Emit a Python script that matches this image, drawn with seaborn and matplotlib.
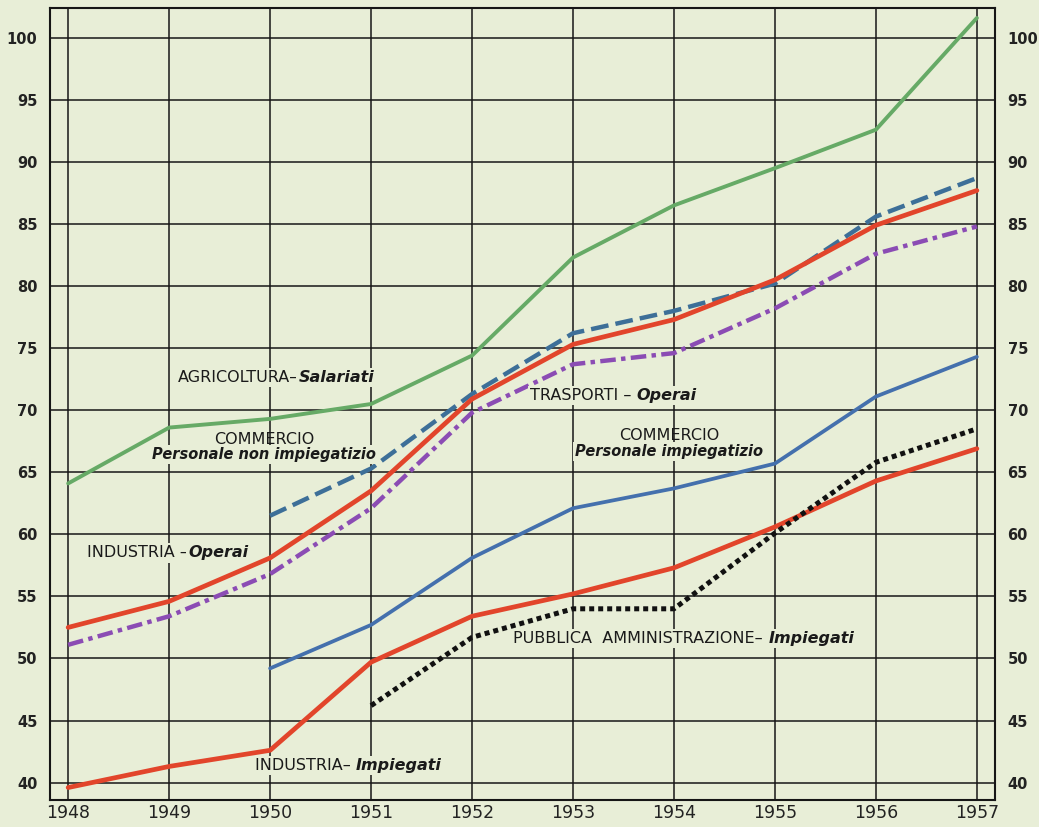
import pandas as pd
import matplotlib.pyplot as plt
import seaborn as sns

# ==========================================
# Data (numeri indici)
# ==========================================

years = [1948, 1949, 1950, 1951, 1952, 1953, 1954, 1955, 1956, 1957]

agricoltura_salariati = [64.1, 68.6, 69.3, 70.5, 74.4, 82.3, 86.5, 89.5, 92.6, 101.6]
commercio_non_impiegatizio = [None, None, 61.5, 65.3, 71.3, 76.2, 78.0, 80.2, 85.6, 88.7]
industria_operai = [52.5, 54.6, 58.1, 63.5, 70.9, 75.3, 77.3, 80.5, 84.9, 87.7]
trasporti_operai = [51.1, 53.4, 56.8, 62.1, 69.8, 73.7, 74.6, 78.2, 82.6, 84.8]
commercio_impiegatizio = [None, None, 49.2, 52.7, 58.1, 62.1, 63.7, 65.7, 71.1, 74.3]
industria_impiegati = [39.6, 41.3, 42.6, 49.7, 53.4, 55.2, 57.3, 60.6, 64.3, 66.9]
pa_impiegati = [None, None, None, 46.2, 51.7, 54.0, 54.0, 60.1, 65.8, 68.5]

y_ticks = [40, 45, 50, 55, 60, 65, 70, 75, 80, 85, 90, 95, 100]

# ==========================================
# Styles
# ==========================================

bg = "#e8eed7"

series = [
    ("agricoltura", agricoltura_salariati, "#66aa66", "-", 2.8),
    ("commercio_non", commercio_non_impiegatizio, "#3d6f98", (0, (4, 1.6)), 3.2),
    ("industria_op", industria_operai, "#e2452b", "-", 3.4),
    ("trasporti", trasporti_operai, "#8b4cb4", (0, (3.5, 1.2, 1, 1.2)), 3.2),
    ("commercio_imp", commercio_impiegatizio, "#4470ad", "-", 2.7),
    ("industria_imp", industria_impiegati, "#e2452b", "-", 3.4),
    ("pa", pa_impiegati, "#111111", (0, (1, 0.8)), 3.6),
]

sns.set_theme(style="white")
plt.rcParams["font.family"] = ["DejaVu Sans"]

fig = plt.figure(figsize=(10.39, 8.27), dpi=100, facecolor=bg)
ax = fig.add_axes([0.0481, 0.0327, 0.9096, 0.9576])
ax.set_facecolor(bg)

# ==========================================
# Lines
# ==========================================

for name, values, color, ls, lw in series:
    df = pd.DataFrame({"anno": years, "indice": values}).dropna()
    sns.lineplot(
        data=df,
        x="anno",
        y="indice",
        ax=ax,
        color=color,
        linestyle=ls,
        linewidth=lw,
        zorder=3,
    )

# ==========================================
# Axes / grid
# ==========================================

ax.set_xlim(1947.82, 1957.18)
ax.set_ylim(38.6, 102.4)
ax.set_xticks(years)
ax.set_xticklabels([str(y) for y in years], fontsize=12.5)
ax.set_yticks(y_ticks)
ax.set_yticklabels([str(v) for v in y_ticks], fontsize=10.5, fontweight="bold")
ax.tick_params(axis="both", length=0, colors="#222222")
ax.tick_params(axis="y", pad=9, labelright=True)
ax.tick_params(axis="x", pad=3)
ax.set_xlabel("")
ax.set_ylabel("")
ax.grid(True, color="#161616", linewidth=1.1)
ax.set_axisbelow(True)
for s in ax.spines.values():
    s.set_color("#161616")
    s.set_linewidth(1.5)

# ==========================================
# Labels
# ==========================================

box = dict(facecolor=bg, edgecolor="none", pad=1.5)


def label(x, y, plain, ital, size=11.5):
    t = ax.text(x, y, plain, fontsize=size, va="center", ha="left",
                color="#1a1a1a", bbox=box, zorder=4)
    ax.annotate(ital, xy=(1, 0), xycoords=t, va="bottom", ha="left",
                fontsize=size, style="italic", fontweight="bold",
                color="#1a1a1a", bbox=box, zorder=4)


label(1949.09, 72.6, "AGRICOLTURA\u2013", "Salariati")
label(1948.19, 58.5, "INDUSTRIA \u2013", "Operai")
label(1952.57, 71.2, "TRASPORTI \u2013 ", "Operai")
label(1952.41, 51.6, "PUBBLICA  AMMINISTRAZIONE\u2013 ", "Impiegati")
label(1949.85, 41.4, "INDUSTRIA\u2013 ", "Impiegati")

ax.text(1949.94, 67.65, "COMMERCIO", fontsize=11.5, ha="center", va="center",
        color="#1a1a1a", zorder=4)
ax.text(1949.94, 66.45, "Personale non impiegatizio", fontsize=10.5,
        ha="center", va="center", style="italic", fontweight="bold",
        color="#1a1a1a", bbox=box, zorder=4)
ax.text(1953.95, 68.0, "COMMERCIO", fontsize=11.5, ha="center", va="center",
        color="#1a1a1a", zorder=4)
ax.text(1953.95, 66.65, "Personale impiegatizio", fontsize=10.5,
        ha="center", va="center", style="italic", fontweight="bold",
        color="#1a1a1a", bbox=box, zorder=4)

fig.savefig("out.png", dpi=100, facecolor=bg)
